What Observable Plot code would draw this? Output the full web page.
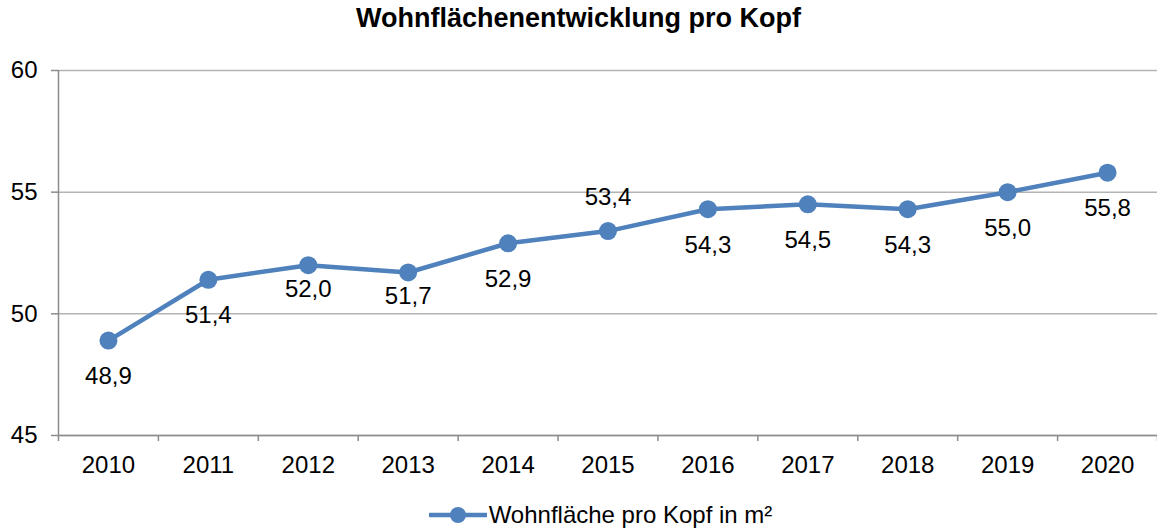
<!DOCTYPE html>
<html>
<head>
<meta charset="utf-8">
<script src="https://cdn.jsdelivr.net/npm/d3@7"></script>
<script src="https://cdn.jsdelivr.net/npm/@observablehq/plot@0.6"></script>
<style>
  html, body { margin: 0; padding: 0; background: #fff; }
  body { width: 1157px; font-family: "Liberation Sans", Arial, sans-serif; }
  #title { height: 48px; line-height: 37px; text-align: center; font-size: 27px; font-weight: bold; color: #000; }
  #legend { height: 50px; display: flex; align-items: center; justify-content: center; padding-left: 44px; box-sizing: border-box; font-size: 24px; color: #000; }
  #legend svg { margin-right: 2px; }
</style>
</head>
<body>
<div id="title">Wohnflächenentwicklung pro Kopf</div>
<div id="chart"></div>
<div id="legend"></div>
<script>
const years = [2010, 2011, 2012, 2013, 2014, 2015, 2016, 2017, 2018, 2019, 2020];
const values = [48.9, 51.4, 52.0, 51.7, 52.9, 53.4, 54.3, 54.5, 54.3, 55.0, 55.8];
const labelPos = ["below", "below", "near", "near", "below", "above", "below", "below", "below", "below", "below"];
const yTicks = [45, 50, 55, 60];
const seriesName = "Wohnfläche pro Kopf in m²";
const color = "#4f81bd";

const data = years.map((y, i) => ({ year: y, value: values[i], pos: labelPos[i] }));
const xBounds = years.map(y => y - 0.5).concat([years[years.length - 1] + 0.5]);
const fmt = v => v.toFixed(1).replace(".", ",");
const labelOffset = { below: 36, near: 24, above: -34 };

const labelMarks = Object.keys(labelOffset).map(p =>
  Plot.text(data.filter(d => d.pos === p), { x: "year", y: "value", text: d => fmt(d.value), dy: labelOffset[p], fontSize: 24, fill: "#000" })
);

const chart = Plot.plot({
  width: 1157,
  height: 442,
  marginTop: 22,
  marginBottom: 55,
  marginLeft: 58,
  marginRight: 0,
  style: { fontFamily: "'Liberation Sans', Arial, sans-serif", fontSize: "24px", color: "#000", background: "#fff" },
  x: { domain: [xBounds[0], xBounds[xBounds.length - 1]] },
  y: { domain: [yTicks[0], yTicks[yTicks.length - 1]] },
  marks: [
    Plot.gridY(yTicks, { stroke: "#b4b4b4", strokeOpacity: 1, strokeWidth: 1.5 }),
    Plot.ruleY([yTicks[0]], { stroke: "#8c8c8c", strokeWidth: 1.5 }),
    Plot.ruleX([xBounds[0]], { stroke: "#8c8c8c", strokeWidth: 1.5 }),
    Plot.axisY({ ticks: yTicks, tickSize: 7, tickPadding: 14, stroke: "#8c8c8c", strokeWidth: 1.5, fontSize: 24, fill: "#000", label: null }),
    Plot.axisX({ ticks: xBounds, tickSize: 6, tickFormat: () => "", stroke: "#8c8c8c", strokeWidth: 1.5, label: null }),
    Plot.axisX({ ticks: years, tickSize: 0, tickPadding: 20, tickFormat: d => String(d), fontSize: 24, fill: "#000", label: null }),
    Plot.line(data, { x: "year", y: "value", stroke: color, strokeWidth: 4.5 }),
    Plot.dot(data, { x: "year", y: "value", r: 9, fill: color, stroke: "none" }),
    ...labelMarks
  ]
});
document.getElementById("chart").appendChild(chart);

const legend = document.getElementById("legend");
legend.innerHTML = `<svg width="58" height="20"><line x1="1" y1="10" x2="57" y2="10" stroke="${color}" stroke-width="4.5" stroke-linecap="round"/><circle cx="29" cy="10" r="8" fill="${color}"/></svg><span>${seriesName}</span>`;
</script>
</body>
</html>
